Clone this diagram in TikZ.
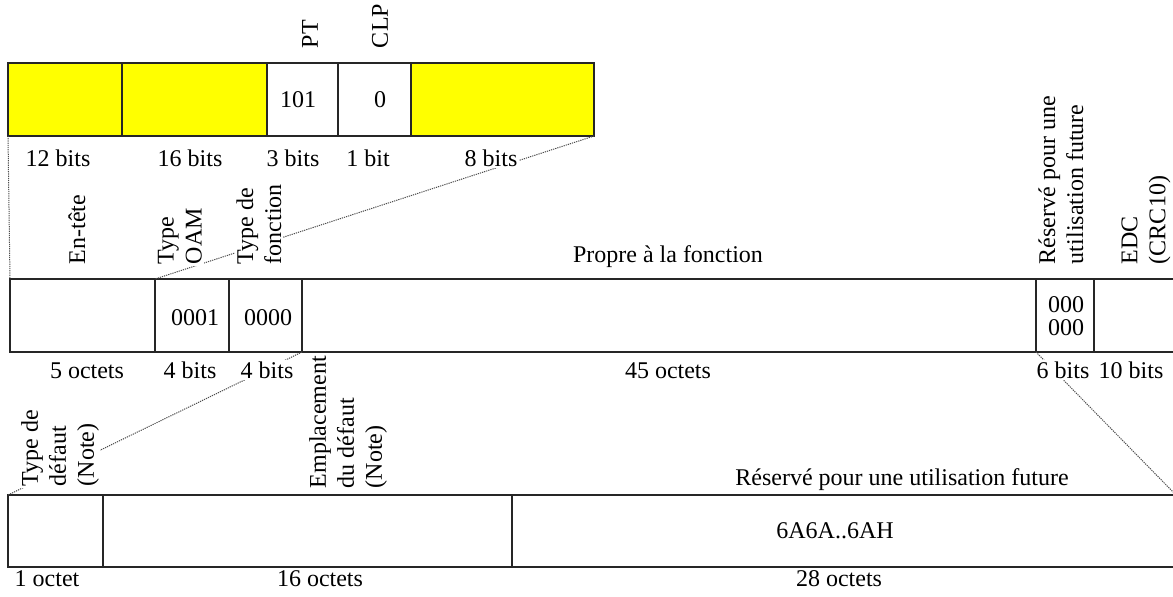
\documentclass[tikz,border=0pt]{standalone}
\usepackage{fontspec}
\setmainfont{Liberation Serif}
\usetikzlibrary{fit}
\definecolor{fieldyellow}{RGB}{255,255,0}
\begin{document}
\begin{tikzpicture}[x=0.5pt,y=-0.5pt,
  every node/.style={font=\fontsize{12}{14}\selectfont},
  cell/.style={draw=black!85, line width=0.55pt, inner sep=0pt, outer sep=0pt},
  hot/.style={cell, fill=fieldyellow},
  txt/.style={inner sep=0.8pt, anchor=base},
  val/.style={inner sep=0pt, anchor=base},
  vlab/.style={rotate=90, anchor=west, align=left, inner sep=0.8pt},
  % labels that sit over an expansion line hide it
  over/.style={fill=white},
  link/.style={draw=black!70, line width=0.5pt, dash pattern=on 0.6pt off 0.5pt},
]
\useasboundingbox (0,0) rectangle (1173,596);

% ATM cell header (5 octets)
\node[hot,  fit={(8,63) (122,136)}]   (h1) {};
\node[hot,  fit={(122,63) (267,136)}] (h2) {};
\node[cell, fit={(267,63) (338,136)}] (h3) {};
\node[cell, fit={(338,63) (411,136)}] (h4) {};
\node[hot,  fit={(411,63) (594,136)}] (h5) {};

% OAM cell
\node[cell, fit={(10,279) (155,352)}]    (m0) {};
\node[cell, fit={(155,279) (229,352)}]   (m1) {};
\node[cell, fit={(229,279) (302,352)}]   (m2) {};
\node[cell, fit={(302,279) (1036,352)}]  (m3) {};
\node[cell, fit={(1036,279) (1094,352)}] (m4) {};
\node[cell, fit={(1094,279) (1176,352)}] (m5) {};

% function-specific field (45 octets)
\node[cell, fit={(8,495) (103,567)}]    (b1) {};
\node[cell, fit={(103,495) (512,567)}]  (b2) {};
\node[cell, fit={(512,495) (1176,567)}] (b3) {};

% expansion lines
\draw[link] (h1.south west) -- (m0.north west);
\draw[link] (h5.south east) -- (m1.north west);
\draw[link] (m2.south east) -- (b1.north west);
\draw[link] (m3.south east) -- (b3.north east);

% header field names, values and sizes
\node[vlab] (lpt)  at (310,50) {PT};
\node[vlab] (lclp) at (380,50) {CLP};
\node[val] (v101) at (298,107) {101};
\node[val] (vclp) at (380,107) {0};
\node[txt] (s1) at (58,166)  {12 bits};
\node[txt] (s2) at (190,166) {16 bits};
\node[txt] (s3) at (293,166) {3 bits};
\node[txt] (s4) at (368,166) {1 bit};
\node[txt, over] (s5) at (491,166) {8 bits};

% OAM cell field names, values and sizes
\node[vlab] (lhdr) at (77,266)   {En-tête};
\node[vlab, over] (loam) at (180,266)  {Type\\OAM};
\node[vlab, over] (lfn)  at (259,266)  {Type de\\fonction};
\node[vlab] (lres) at (1061,266) {Réservé pour une\\utilisation future};
\node[vlab] (ledc) at (1146,266) {EDC\\(CRC10)};
\node[val] (lprop) at (668,262) {Propre à la fonction};
\node[val] (voam) at (195,325) {0001};
\node[val] (vfn)  at (268,325) {0000};
\node[val] (vr1)  at (1066,312) {000};
\node[val] (vr2)  at (1066,335) {000};
\node[txt] (t1) at (87,378)   {5 octets};
\node[txt] (t2) at (190,378)  {4 bits};
\node[txt, over] (t3) at (267,378)  {4 bits};
\node[txt] (t4) at (668,378)  {45 octets};
\node[txt, over] (t5) at (1063,378) {6 bits};
\node[txt] (t6) at (1131,378) {10 bits};

% function-specific field names, values and sizes
\node[vlab, over] (ldef) at (60,488)  {Type de\\défaut\\(Note)};
\node[vlab] (lloc) at (348,490) {Emplacement\\du défaut\\(Note)};
\node[val] (lfut) at (902,485) {Réservé pour une utilisation future};
\node[val] (vfut) at (835,538) {6A6A..6AH};
\node[txt] (u1) at (47,586)  {1 octet};
\node[txt] (u2) at (320,586) {16 octets};
\node[txt] (u3) at (839,586) {28 octets};
\end{tikzpicture}
\end{document}
